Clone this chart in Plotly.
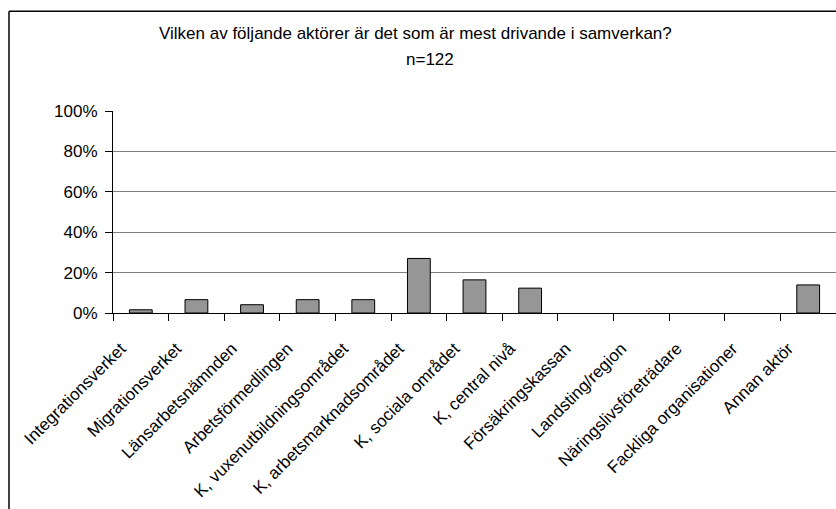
import plotly.graph_objects as go

categories = [
    "Integrationsverket", "Migrationsverket", "Länsarbetsnämnden",
    "Arbetsförmedlingen", "K, vuxenutbildningsområdet",
    "K, arbetsmarknadsområdet", "K, sociala området", "K, central nivå",
    "Försäkringskassan", "Landsting/region", "Näringslivsföreträdare",
    "Fackliga organisationer", "Annan aktör",
]
values = [0.016, 0.066, 0.041, 0.066, 0.066, 0.270, 0.164, 0.123,
          0.0, 0.0, 0.0, 0.0, 0.139]
y_ticks = [0, 0.2, 0.4, 0.6, 0.8, 1.0]
y_tick_labels = ["0%", "20%", "40%", "60%", "80%", "100%"]
title_line1 = "Vilken av följande aktörer är det som är mest drivande i samverkan?"
title_line2 = "n=122"

FONT = "Liberation Sans, Arial, sans-serif"
W, H = 836, 509
L, T, R = 113, 111, 0
B = H - 313.5
pw = W - L - R
ph = H - T - B

def px_x(x):
    return (x - L) / pw

def px_y(y):
    return 1 + (T - y) / ph

fig = go.Figure()
fig.add_trace(go.Bar(
    x=categories, y=values,
    marker=dict(color="#969696",
                line=dict(color="black", width=[1 if v > 0 else 0 for v in values])),
    hoverinfo="skip",
))

fig.update_layout(
    width=W, height=H,
    margin=dict(l=L, r=R, t=T, b=B, pad=0, autoexpand=False),
    paper_bgcolor="white", plot_bgcolor="white",
    bargap=0.59,
    showlegend=False,
    font=dict(family=FONT, size=17, color="black"),
    xaxis=dict(
        type="category", tickson="boundaries", automargin=False,
        showline=True, linecolor="black", linewidth=1,
        ticks="outside", ticklen=7, tickcolor="black", tickwidth=1,
        tickangle=-45, showgrid=False,
        ticklabelshift=-20, ticklabelstandoff=18,
        tickfont=dict(family=FONT, size=17, color="black"),
    ),
    yaxis=dict(
        range=[0, 1], tickvals=y_ticks, ticktext=y_tick_labels,
        automargin=False,
        showline=True, linecolor="black", linewidth=1,
        ticks="outside", ticklen=7, tickcolor="black", tickwidth=1,
        showgrid=True, gridcolor="#808080", gridwidth=1,
        zeroline=False,
        tickfont=dict(family=FONT, size=17, color="black"),
        ticklabelstandoff=4,
    ),
    annotations=[
        dict(text=title_line1, xref="paper", yref="paper",
             x=px_x(415), y=px_y(33), xanchor="center", yanchor="middle",
             showarrow=False, font=dict(family=FONT, size=17, color="black")),
        dict(text=title_line2, xref="paper", yref="paper",
             x=px_x(429.5), y=px_y(59), xanchor="center", yanchor="middle",
             showarrow=False, font=dict(family=FONT, size=17, color="black")),
    ],
    shapes=[
        dict(type="line", xref="paper", yref="paper",
             x0=px_x(9), x1=px_x(9), y0=px_y(H + 40), y1=px_y(11),
             line=dict(color="black", width=1.5), layer="below"),
        dict(type="line", xref="paper", yref="paper",
             x0=px_x(9), x1=px_x(W + 40), y0=px_y(11), y1=px_y(11),
             line=dict(color="black", width=1.5), layer="below"),
    ],
)

fig.write_html(
    "out.html",
    config={"displayModeBar": False},
    post_script="document.body.style.margin='0';document.body.style.overflow='hidden';",
)
